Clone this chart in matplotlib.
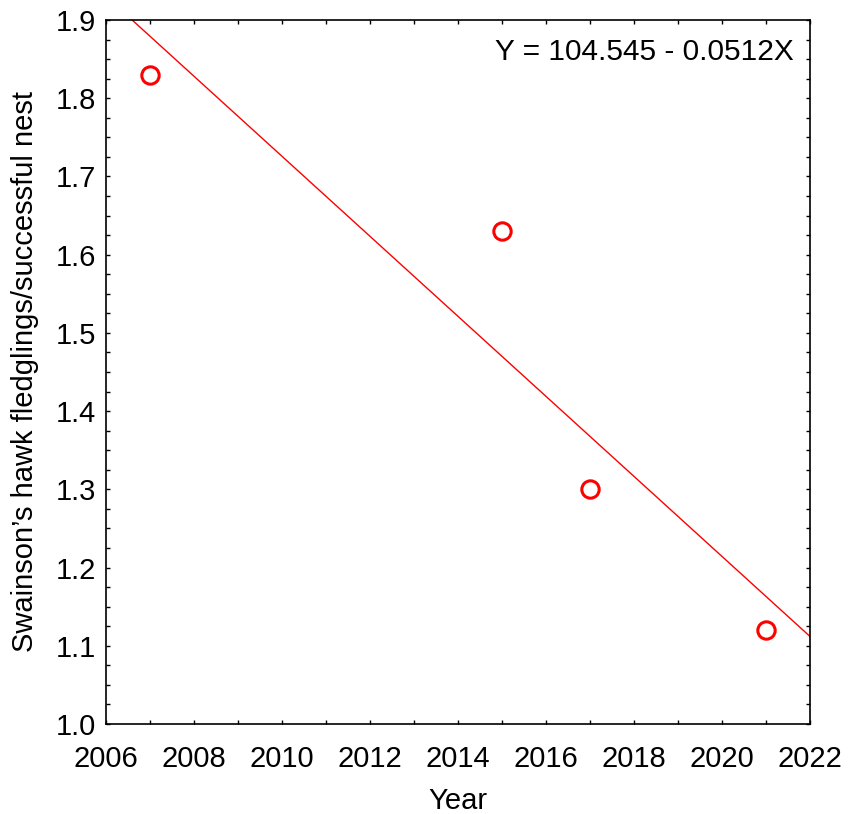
import numpy as np
import matplotlib
matplotlib.use('Agg')
import matplotlib.pyplot as plt
from matplotlib.ticker import MultipleLocator

plt.rcParams['font.family'] = ['Liberation Sans', 'DejaVu Sans']

years = [2007, 2015, 2017, 2021]
fledglings = [1.83, 1.63, 1.30, 1.12]

# least-squares fit through the nest data
slope, intercept = np.polyfit(years, fledglings, 1)
x_fit = np.array([2006, 2022])
y_fit = intercept + slope * x_fit

fig = plt.figure(figsize=(8.59, 8.14), dpi=100)
ax = fig.add_axes([106 / 859, 1 - 724 / 814, 704 / 859, 704 / 814])

ax.plot(x_fit, y_fit, color='red', linewidth=1.0)
ax.plot(years, fledglings, 'o', markersize=12.5, markerfacecolor='none',
        markeredgecolor='red', markeredgewidth=2.2, linestyle='none')

ax.set_xlim(2006, 2022)
ax.set_ylim(1.0, 1.9)
ax.xaxis.set_major_locator(MultipleLocator(2))
ax.xaxis.set_minor_locator(MultipleLocator(1))
ax.yaxis.set_major_locator(MultipleLocator(0.1))
ax.yaxis.set_minor_locator(MultipleLocator(0.025))
ax.yaxis.set_major_formatter(plt.FormatStrFormatter('%.1f'))

ax.tick_params(which='both', direction='in', top=True, right=True,
               length=3, width=1, labelsize=21)
ax.tick_params(axis='x', pad=15)
ax.tick_params(axis='y', pad=7)
for s in ax.spines.values():
    s.set_linewidth(1.2)

ax.set_xlabel('Year', fontsize=21, labelpad=10)
ax.set_ylabel('Swainson\u2019s hawk fledglings/successful nest', fontsize=21,
              labelpad=12)

ax.text(0.977, 0.955, 'Y = 104.545 - 0.0512X', transform=ax.transAxes,
        ha='right', va='center', fontsize=21.5)

fig.savefig('out.png', dpi=100)
